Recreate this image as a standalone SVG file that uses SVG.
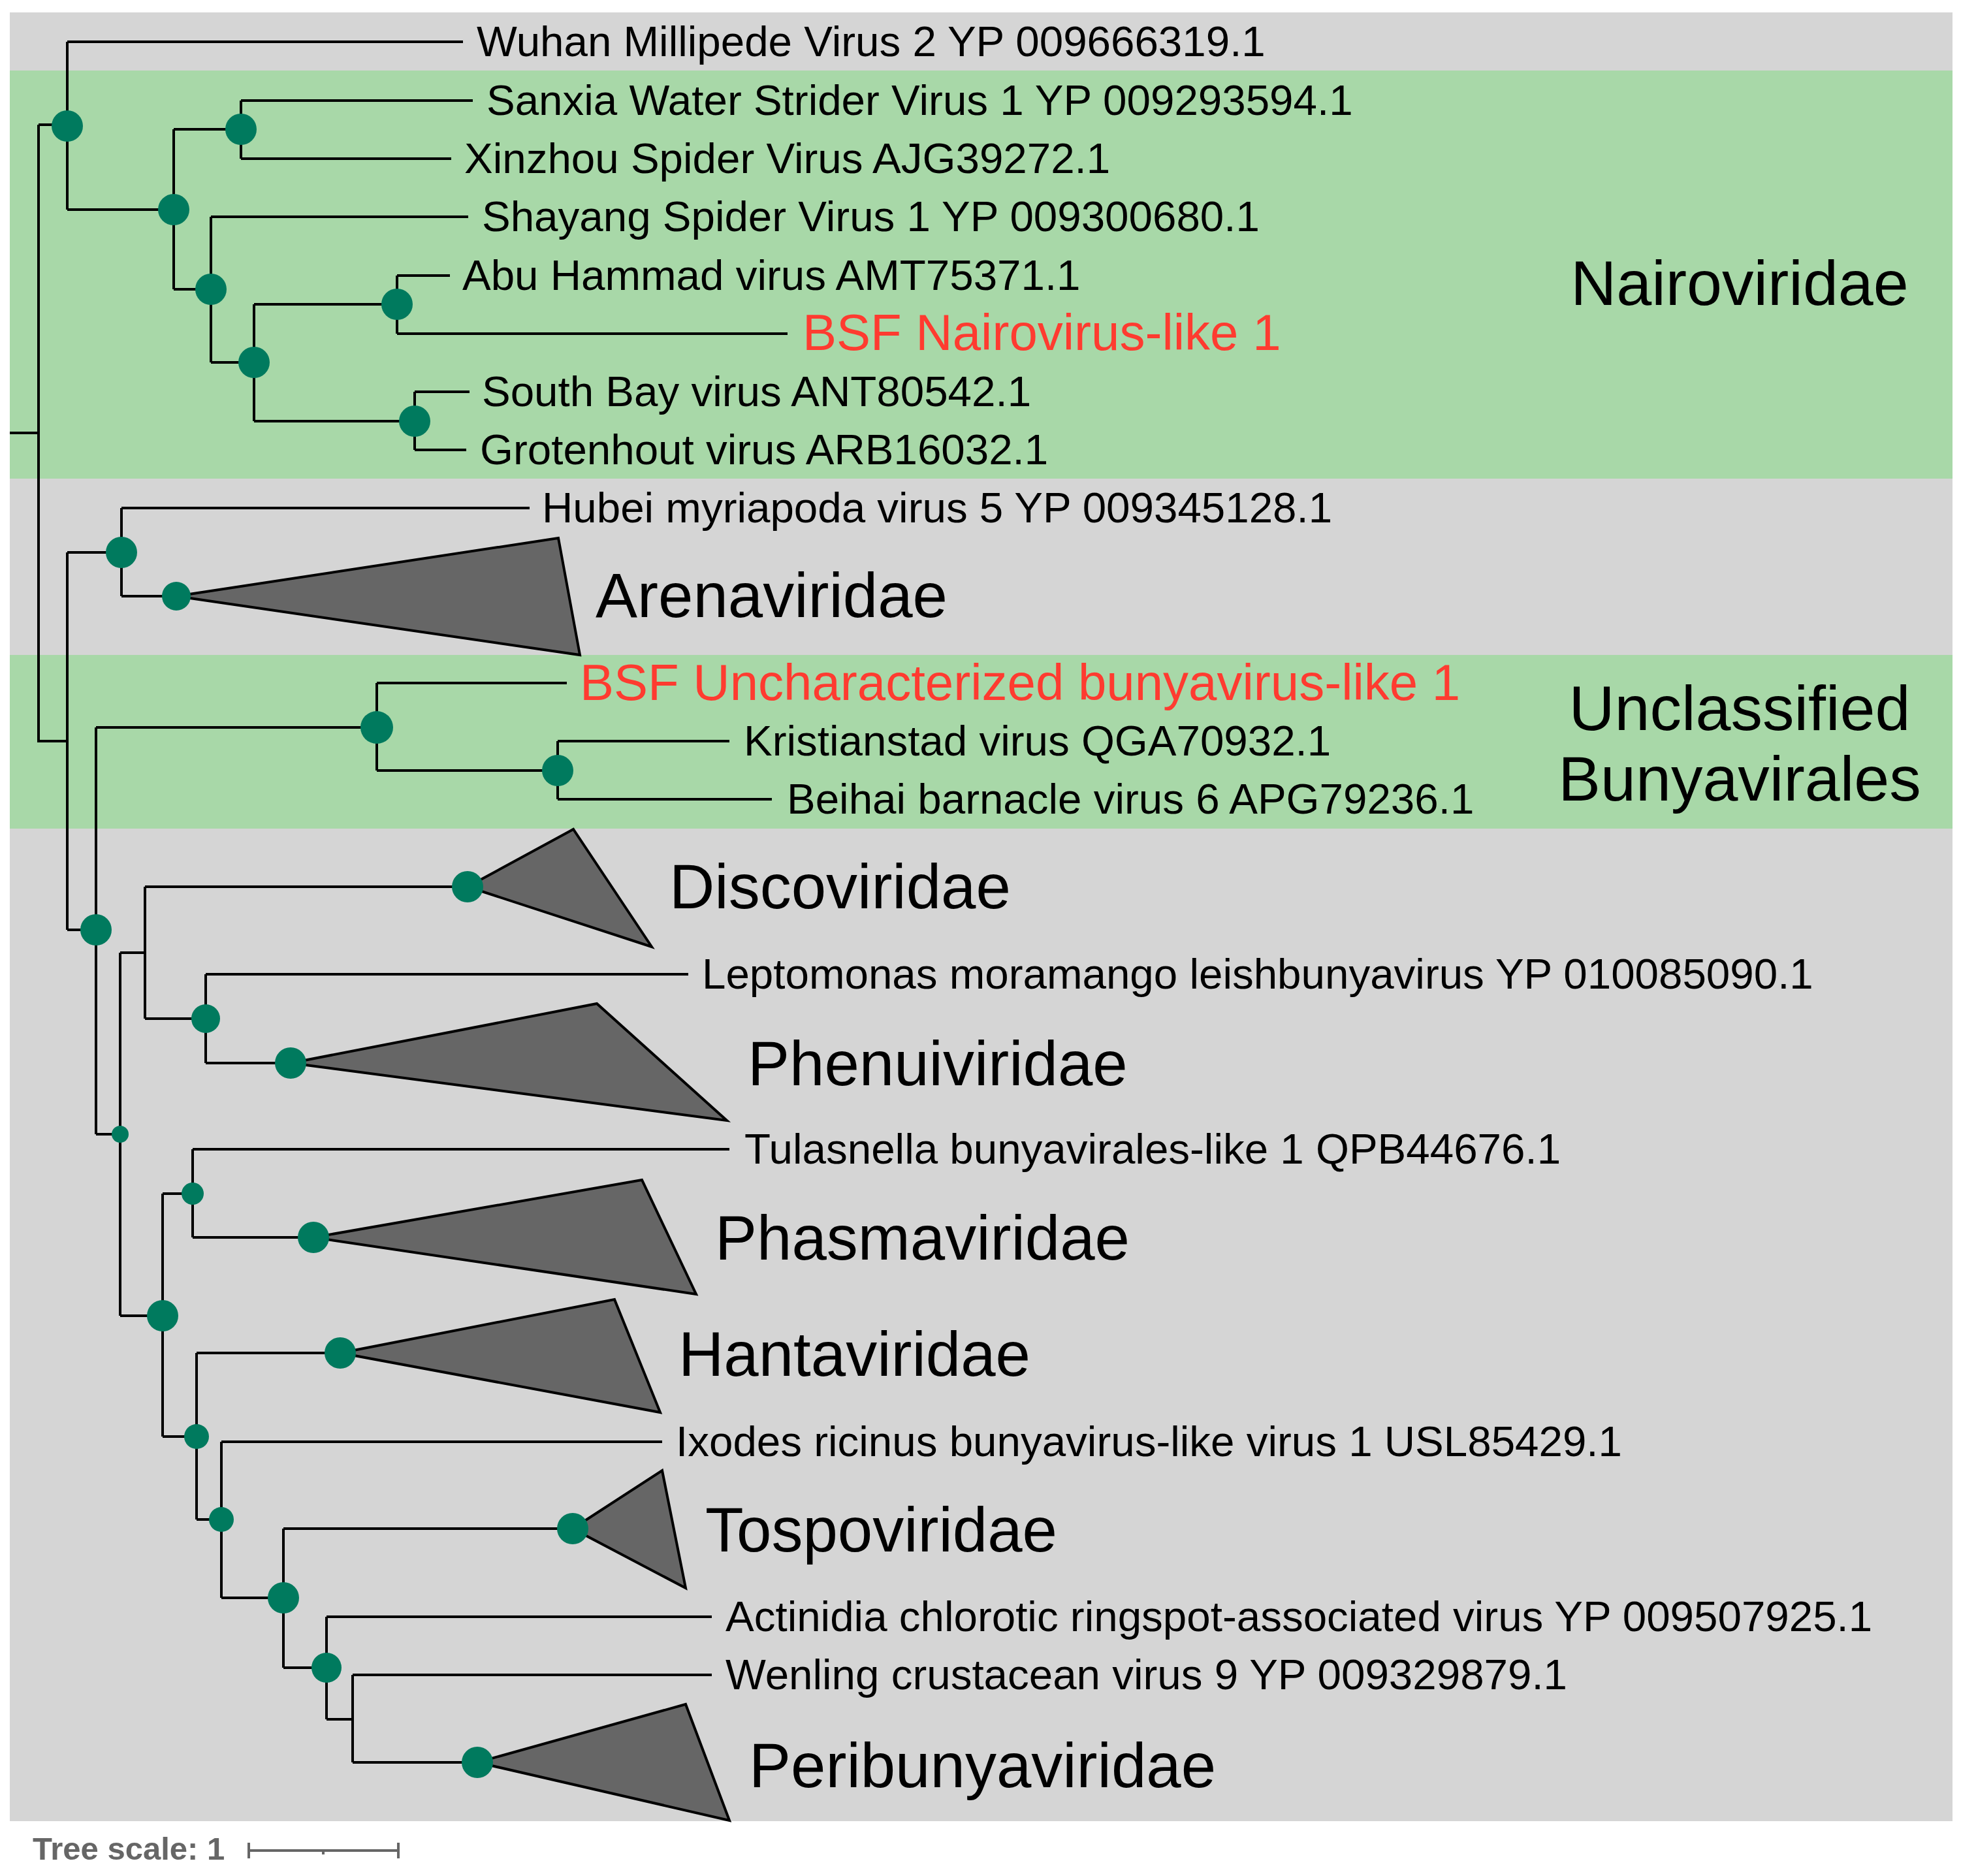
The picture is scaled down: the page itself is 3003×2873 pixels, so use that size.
<svg xmlns="http://www.w3.org/2000/svg" width="3003" height="2873" viewBox="0 0 3003 2873">
<style>
.e{fill:none;stroke:#000;stroke-width:4}
.n{fill:#007a5e}
.t{fill:#666;stroke:#000;stroke-width:4;stroke-linejoin:miter}
.l{font-family:"Liberation Sans",Arial,sans-serif;font-size:65.5px;fill:#000}
.r{font-family:"Liberation Sans",Arial,sans-serif;font-size:78px;fill:#ff3b30}
.c{font-family:"Liberation Sans",Arial,sans-serif;font-size:96px;fill:#000}
.g{font-family:"Liberation Sans",Arial,sans-serif;font-size:97px;fill:#000}
</style>
<rect width="3003" height="2873" fill="#fff"/>
<g id="bands">
<rect x="15" y="19" width="2975" height="2770" fill="#d5d5d5"/>
<rect x="15" y="108" width="2975" height="625" fill="#a8d8a8"/>
<rect x="15" y="1003" width="2975" height="266" fill="#a8d8a8"/>
</g>
<g id="connectors" class="e">
<path d="M15 663H59M59 191V1135H103"/>
<path d="M59 191H103M103 64V321M103 64H709M103 321H266"/>
<path d="M266 198V443M266 198H369M369 154V243M369 154H724M369 243H691"/>
<path d="M266 443H323M323 332V555M323 332H717M323 555H389"/>
<path d="M389 466V645M389 466H608M608 422V511M608 422H689M608 511H1206"/>
<path d="M389 645H635M635 600V689M635 600H719M635 689H714"/>
<path d="M103 846V1424M103 846H186M186 778V913M186 778H811M186 913H270"/>
<path d="M103 1424H147M147 1114V1737M147 1114H577M577 1046V1180M577 1046H868M577 1180H854M854 1135V1224M854 1135H1117M854 1224H1182"/>
<path d="M147 1737H184M184 1459V2015M184 1459H222M222 1358V1560M222 1358H716M222 1560H315M315 1492V1628M315 1492H1054M315 1628H445"/>
<path d="M184 2015H249M249 1828V2200M249 1828H295M295 1760V1895M295 1760H1117M295 1895H480"/>
<path d="M249 2200H301M301 2072V2327M301 2072H521M301 2327H339M339 2208V2447M339 2208H1014M339 2447H434M434 2341V2554M434 2341H877M434 2554H500M500 2476V2633M500 2476H1090M500 2633H540M540 2565V2699M540 2565H1090M540 2699H731"/>
</g>
<g id="clades">
<polygon class="t" points="270,913 855,824 888,1003"/>
<polygon class="t" points="716,1358 878,1270 998,1450"/>
<polygon class="t" points="445,1628 914,1537 1113,1716"/>
<polygon class="t" points="480,1895 983,1807 1066,1982"/>
<polygon class="t" points="521,2072 941,1990 1011,2163"/>
<polygon class="t" points="877,2341 1014,2252 1050,2432"/>
<polygon class="t" points="731,2699 1050,2610 1117,2788"/>
</g>
<g id="nodes">
<circle class="n" cx="103" cy="193" r="24"/>
<circle class="n" cx="266" cy="321" r="24"/>
<circle class="n" cx="369" cy="198" r="24"/>
<circle class="n" cx="323" cy="443" r="24"/>
<circle class="n" cx="389" cy="555" r="24"/>
<circle class="n" cx="608" cy="466" r="24"/>
<circle class="n" cx="635" cy="645" r="24"/>
<circle class="n" cx="186" cy="846" r="24"/>
<circle class="n" cx="270" cy="913" r="22"/>
<circle class="n" cx="147" cy="1424" r="24"/>
<circle class="n" cx="577" cy="1114" r="25"/>
<circle class="n" cx="854" cy="1180" r="24"/>
<circle class="n" cx="184" cy="1737" r="13"/>
<circle class="n" cx="716" cy="1358" r="24"/>
<circle class="n" cx="315" cy="1560" r="22"/>
<circle class="n" cx="445" cy="1628" r="24"/>
<circle class="n" cx="295" cy="1828" r="17"/>
<circle class="n" cx="249" cy="2015" r="24"/>
<circle class="n" cx="480" cy="1895" r="24"/>
<circle class="n" cx="521" cy="2072" r="24"/>
<circle class="n" cx="301" cy="2200" r="19"/>
<circle class="n" cx="339" cy="2327" r="19"/>
<circle class="n" cx="434" cy="2447" r="24"/>
<circle class="n" cx="877" cy="2341" r="24"/>
<circle class="n" cx="500" cy="2554" r="23"/>
<circle class="n" cx="731" cy="2699" r="24"/>
</g>
<g id="labels">
<text class="l" x="730" y="86">Wuhan Millipede Virus 2 YP 009666319.1</text>
<text class="l" x="745" y="176">Sanxia Water Strider Virus 1 YP 009293594.1</text>
<text class="l" x="711" y="265">Xinzhou Spider Virus AJG39272.1</text>
<text class="l" x="738" y="354">Shayang Spider Virus 1 YP 009300680.1</text>
<text class="l" x="708" y="444">Abu Hammad virus AMT75371.1</text>
<text class="r" x="1229" y="536">BSF Nairovirus-like 1</text>
<text class="l" x="738" y="622">South Bay virus ANT80542.1</text>
<text class="l" x="735" y="711">Grotenhout virus ARB16032.1</text>
<text class="l" x="830" y="800">Hubei myriapoda virus 5 YP 009345128.1</text>
<text class="r" x="888" y="1072">BSF Uncharacterized bunyavirus-like 1</text>
<text class="l" x="1139" y="1157">Kristianstad virus QGA70932.1</text>
<text class="l" x="1205" y="1246">Beihai barnacle virus 6 APG79236.1</text>
<text class="l" x="1075" y="1514">Leptomonas moramango leishbunyavirus YP 010085090.1</text>
<text class="l" x="1140" y="1782">Tulasnella bunyavirales-like 1 QPB44676.1</text>
<text class="l" x="1035" y="2230">Ixodes ricinus bunyavirus-like virus 1 USL85429.1</text>
<text class="l" x="1111" y="2498">Actinidia chlorotic ringspot-associated virus YP 009507925.1</text>
<text class="l" x="1111" y="2587">Wenling crustacean virus 9 YP 009329879.1</text>
<text class="c" x="912" y="945">Arenaviridae</text>
<text class="c" x="1025" y="1391">Discoviridae</text>
<text class="c" x="1145" y="1662">Phenuiviridae</text>
<text class="c" x="1095" y="1929">Phasmaviridae</text>
<text class="c" x="1039" y="2107">Hantaviridae</text>
<text class="c" x="1080" y="2376">Tospoviridae</text>
<text class="c" x="1147" y="2737">Peribunyaviridae</text>
<text class="g" x="2664" y="467" text-anchor="middle">Nairoviridae</text>
<text class="g" x="2664" y="1118" text-anchor="middle">Unclassified</text>
<text class="g" x="2664" y="1226" text-anchor="middle">Bunyavirales</text>
</g>
<g id="scale">
<text x="50" y="2848" font-family="Liberation Sans,Arial,sans-serif" font-size="49" font-weight="bold" fill="#666">Tree scale: 1</text>
<path d="M381 2834H610M381 2822V2846M610 2822V2846M495 2834V2840" fill="none" stroke="#666" stroke-width="4"/>
</g>
</svg>
